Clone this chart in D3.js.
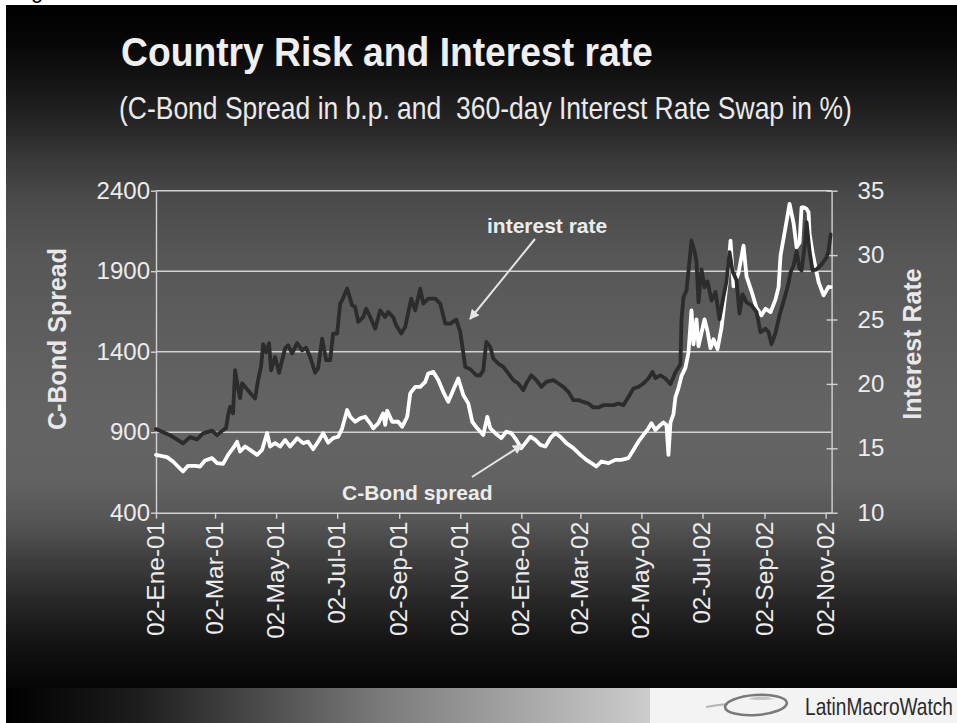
<!DOCTYPE html>
<html>
<head>
<meta charset="utf-8">
<script src="https://cdn.jsdelivr.net/npm/d3@7"></script>
<style>
  html, body { margin: 0; padding: 0; background: #ffffff; }
  svg { display: block; font-family: "Liberation Sans", Arial, Helvetica, sans-serif; }
</style>
</head>
<body>
<svg id="chart" width="957" height="723"></svg>
<script>
// C-Bond spread (basis points), left axis
const spreadSeries = [
  ["2001-01-02",759],["2001-01-13",745],["2001-01-19",718],["2001-01-24",687],["2001-01-29",656],
  ["2001-02-03",691],["2001-02-10",691],["2001-02-15",687],["2001-02-20",724],["2001-02-27",739],
  ["2001-03-04",708],["2001-03-10",703],["2001-03-15",759],["2001-03-20",801],["2001-03-24",841],
  ["2001-03-27",780],["2001-04-01",811],["2001-04-06",790],["2001-04-13",759],["2001-04-18",790],
  ["2001-04-23",894],["2001-04-26",811],["2001-05-01",832],["2001-05-06",811],["2001-05-11",852],
  ["2001-05-16",811],["2001-05-23",863],["2001-05-29",832],["2001-06-03",841],["2001-06-08",794],
  ["2001-06-13",841],["2001-06-18",894],["2001-06-23",835],["2001-06-28",863],["2001-07-03",872],
  ["2001-07-07",924],["2001-07-12",1038],["2001-07-15",996],["2001-07-20",965],["2001-07-25",986],
  ["2001-07-30",996],["2001-08-04",955],["2001-08-07",924],["2001-08-12",955],["2001-08-17",1017],
  ["2001-08-19",945],["2001-08-21",1033],["2001-08-26",965],["2001-09-01",965],["2001-09-05",934],
  ["2001-09-10",996],["2001-09-13",1141],["2001-09-18",1182],["2001-09-23",1182],["2001-09-28",1213],
  ["2001-10-01",1265],["2001-10-06",1275],["2001-10-11",1224],["2001-10-16",1151],["2001-10-21",1089],
  ["2001-10-26",1162],["2001-10-31",1234],["2001-11-05",1131],["2001-11-10",1079],["2001-11-14",965],
  ["2001-11-19",924],["2001-11-25",883],["2001-11-29",996],["2001-12-02",924],["2001-12-07",894],
  ["2001-12-13",863],["2001-12-18",903],["2001-12-23",894],["2001-12-28",852],["2002-01-02",801],
  ["2002-01-06",832],["2002-01-11",872],["2002-01-16",852],["2002-01-21",821],["2002-01-26",811],
  ["2002-01-31",863],["2002-02-05",894],["2002-02-10",872],["2002-02-16",832],["2002-02-23",801],
  ["2002-03-02",759],["2002-03-08",728],["2002-03-13",708],["2002-03-18",687],["2002-03-23",718],
  ["2002-03-30",708],["2002-04-06",728],["2002-04-12",728],["2002-04-19",739],["2002-04-24",790],
  ["2002-04-29",841],["2002-05-04",883],["2002-05-09",924],["2002-05-12",955],["2002-05-16",914],
  ["2002-05-21",945],["2002-05-24",960],["2002-05-27",945],["2002-05-29",759],["2002-05-31",960],
  ["2002-06-03",1013],["2002-06-05",1118],["2002-06-08",1174],["2002-06-11",1248],["2002-06-15",1301],
  ["2002-06-18",1394],["2002-06-21",1657],["2002-06-23",1446],["2002-06-26",1601],["2002-06-28",1434],
  ["2002-07-04",1601],["2002-07-07",1527],["2002-07-10",1422],["2002-07-13",1477],["2002-07-17",1416],
  ["2002-07-21",1549],["2002-07-25",1765],["2002-07-28",1925],["2002-07-30",2090],["2002-08-02",1806],
  ["2002-08-07",1889],["2002-08-12",2059],["2002-08-15",1868],["2002-08-20",1775],["2002-08-25",1672],
  ["2002-08-30",1626],["2002-09-03",1667],["2002-09-08",1646],["2002-09-13",1725],["2002-09-16",1801],
  ["2002-09-18",1998],["2002-09-21",2103],["2002-09-24",2210],["2002-09-27",2318],["2002-10-01",2199],
  ["2002-10-04",2049],["2002-10-07",2078],["2002-10-09",2297],["2002-10-11",2297],["2002-10-14",2287],
  ["2002-10-16",2266],["2002-10-17",2132],["2002-10-20",2016],["2002-10-22",1954],["2002-10-26",1832],
  ["2002-10-31",1750],["2002-11-05",1803],["2002-11-07",1801]
];

// 360-day interest rate swap (%), right axis
const rateSeries = [
  ["2001-01-02",16.49],["2001-01-16",16.02],["2001-01-29",15.38],["2001-02-05",15.87],["2001-02-12",15.69],
  ["2001-02-18",16.16],["2001-02-27",16.37],["2001-03-04",16.02],["2001-03-10",16.41],["2001-03-13",16.57],
  ["2001-03-15",17.57],["2001-03-17",18.22],["2001-03-20",17.71],["2001-03-22",21.06],["2001-03-25",19.67],
  ["2001-03-27",18.89],["2001-03-29",20.05],["2001-04-03",19.59],["2001-04-08",19.12],["2001-04-11",18.87],
  ["2001-04-14",20.29],["2001-04-17",21.37],["2001-04-19",23.08],["2001-04-22",22.46],["2001-04-25",23.15],
  ["2001-04-27",21.06],["2001-05-01",22.09],["2001-05-05",20.86],["2001-05-08",21.84],["2001-05-11",22.77],
  ["2001-05-14",23.00],["2001-05-18",22.36],["2001-05-23",23.16],["2001-05-28",22.61],["2001-06-01",22.81],
  ["2001-06-05",22.09],["2001-06-10",20.87],["2001-06-13",21.22],["2001-06-17",23.52],["2001-06-21",21.84],
  ["2001-06-25",21.84],["2001-06-28",23.91],["2001-07-02",23.91],["2001-07-05",26.23],["2001-07-07",26.49],
  ["2001-07-12",27.40],["2001-07-17",26.10],["2001-07-20",25.97],["2001-07-23",24.81],["2001-07-28",25.19],
  ["2001-07-31",25.84],["2001-08-04",25.19],["2001-08-09",24.29],["2001-08-14",25.71],["2001-08-19",25.19],
  ["2001-08-22",25.58],["2001-08-27",25.19],["2001-08-30",24.55],["2001-09-04",23.91],["2001-09-08",24.42],
  ["2001-09-14",26.62],["2001-09-18",25.71],["2001-09-23",27.40],["2001-09-26",26.23],["2001-10-01",26.62],
  ["2001-10-08",26.62],["2001-10-13",26.23],["2001-10-18",24.68],["2001-10-23",24.68],["2001-10-29",24.99],
  ["2001-11-02",24.03],["2001-11-07",21.32],["2001-11-12",21.14],["2001-11-18",20.67],["2001-11-22",20.67],
  ["2001-11-25",21.06],["2001-11-28",23.26],["2001-12-02",22.87],["2001-12-05",21.97],["2001-12-10",21.58],
  ["2001-12-15",21.32],["2001-12-20",20.81],["2001-12-25",20.29],["2001-12-30",20.03],["2002-01-04",19.51],
  ["2002-01-07",20.03],["2002-01-12",20.67],["2002-01-17",20.29],["2002-01-22",19.77],["2002-01-27",20.16],
  ["2002-02-03",20.29],["2002-02-08",20.03],["2002-02-13",19.77],["2002-02-18",19.38],["2002-02-23",18.74],
  ["2002-02-28",18.74],["2002-03-05",18.60],["2002-03-10",18.48],["2002-03-15",18.17],["2002-03-20",18.17],
  ["2002-03-25",18.35],["2002-03-30",18.35],["2002-04-04",18.35],["2002-04-09",18.48],["2002-04-14",18.35],
  ["2002-04-19",18.99],["2002-04-24",19.64],["2002-04-29",19.77],["2002-05-04",20.03],["2002-05-09",20.42],
  ["2002-05-13",20.93],["2002-05-16",20.44],["2002-05-21",20.67],["2002-05-26",20.42],["2002-05-31",19.98],
  ["2002-06-05",20.91],["2002-06-10",21.53],["2002-06-11",24.94],["2002-06-13",26.72],["2002-06-16",27.26],
  ["2002-06-18",28.74],["2002-06-21",31.14],["2002-06-24",30.29],["2002-06-26",29.51],["2002-06-28",26.33],
  ["2002-07-01",28.89],["2002-07-04",27.50],["2002-07-07",27.96],["2002-07-11",26.49],["2002-07-15",27.13],
  ["2002-07-19",25.02],["2002-07-23",26.80],["2002-07-26",27.96],["2002-07-29",30.23],["2002-08-01",28.74],
  ["2002-08-05",28.04],["2002-08-08",25.46],["2002-08-11",26.95],["2002-08-15",26.33],["2002-08-20",26.10],
  ["2002-08-25",25.58],["2002-08-29",24.01],["2002-09-03",24.29],["2002-09-06",24.03],["2002-09-09",23.08],
  ["2002-09-13",23.97],["2002-09-17",25.33],["2002-09-23",26.95],["2002-09-26",27.84],["2002-09-28",28.66],
  ["2002-10-01",29.20],["2002-10-04",30.29],["2002-10-07",28.95],["2002-10-09",28.81],["2002-10-13",31.29],
  ["2002-10-14",32.56],["2002-10-17",30.29],["2002-10-20",28.81],["2002-10-24",28.89],["2002-10-29",29.28],
  ["2002-11-03",29.82],["2002-11-05",30.36],["2002-11-07",31.60]
];

const spreadTicks = [400, 900, 1400, 1900, 2400];
const rateTicks = [10, 15, 20, 25, 30, 35];
const dateTicks = ["2001-01-02","2001-03-02","2001-05-02","2001-07-02","2001-09-02","2001-11-02",
                   "2002-01-02","2002-03-02","2002-05-02","2002-07-02","2002-09-02","2002-11-02"];
const dateTickLabels = ["02-Ene-01","02-Mar-01","02-May-01","02-Jul-01","02-Sep-01","02-Nov-01",
                        "02-Ene-02","02-Mar-02","02-May-02","02-Jul-02","02-Sep-02","02-Nov-02"];
const dateRange = ["2001-01-02", "2002-11-08"];

const titleText = "Country Risk and Interest rate";
const subtitleText = "(C-Bond Spread in b.p. and  360-day Interest Rate Swap in %)";
const leftTitle = "C-Bond Spread";
const rightTitle = "Interest Rate";
const rateNote = "interest rate";
const spreadNote = "C-Bond spread";
const brandText = "LatinMacroWatch";

const parse = d3.utcParse("%Y-%m-%d");
const svg = d3.select("#chart");
const W = 957, H = 723;
const plot = { left: 156, right: 831.6, top: 190.7, bottom: 512.7 };

// Places a text at (x, baseline) and squeezes it horizontally to the given width.
function fittedText(parent, str, x, y, width, attrs) {
  const g = parent.append("g");
  const t = g.append("text").attr("x", 0).attr("y", 0).style("white-space", "pre").text(str);
  Object.entries(attrs).forEach(([k, v]) => t.attr(k, v));
  const natural = t.node().getComputedTextLength();
  g.attr("transform", `translate(${x},${y}) scale(${width / natural},1)`);
  return t;
}

// ---------- backgrounds ----------
const defs = svg.append("defs");
const bg = defs.append("linearGradient").attr("id", "slideBg")
  .attr("gradientUnits", "userSpaceOnUse").attr("x1", 0).attr("y1", 5).attr("x2", 0).attr("y2", 688);
[[5,"#000000"],[40,"#060606"],[80,"#141414"],[120,"#242424"],[160,"#393939"],[200,"#4b4b4b"],
 [260,"#575757"],[340,"#5e5e5e"],[420,"#646464"],[480,"#626262"],[520,"#565656"],[560,"#3e3e3e"],
 [600,"#282828"],[640,"#151515"],[688,"#050505"]].forEach(([y, c]) => {
  bg.append("stop").attr("offset", (y - 5) / 683).attr("stop-color", c);
});
const strip = defs.append("linearGradient").attr("id", "stripBg")
  .attr("gradientUnits", "userSpaceOnUse").attr("x1", 6).attr("y1", 0).attr("x2", 650).attr("y2", 0);
[[0,"#000000"],[0.2,"#1c1c1c"],[0.4,"#4c4c4c"],[0.6,"#7e7e7e"],[0.8,"#a6a6a6"],[1,"#cdcdcd"]]
  .forEach(([o, c]) => strip.append("stop").attr("offset", o).attr("stop-color", c));

const marker = defs.append("marker").attr("id", "arrow")
  .attr("viewBox", "0 0 10 10").attr("refX", 9).attr("refY", 5)
  .attr("markerWidth", 5).attr("markerHeight", 5).attr("orient", "auto-start-reverse")
  .attr("markerUnits", "strokeWidth");
marker.append("path").attr("d", "M0,0 L10,5 L0,10 z").attr("fill", "#e6e6e6");

svg.append("rect").attr("width", W).attr("height", H).attr("fill", "#ffffff");
svg.append("rect").attr("x", 6).attr("y", 5).attr("width", W - 6).attr("height", 683).attr("fill", "url(#slideBg)");
svg.append("rect").attr("x", 6).attr("y", 688).attr("width", 644).attr("height", H - 688).attr("fill", "url(#stripBg)");
svg.append("rect").attr("x", 650).attr("y", 688).attr("width", W - 650).attr("height", H - 688).attr("fill", "#f3f3f3");
svg.append("text").attr("x", 31).attr("y", -2).attr("font-size", 22).attr("fill", "#000").text("g");

// ---------- titles ----------
fittedText(svg, titleText, 121, 66, 532,
  { "font-size": 41, "font-weight": "bold", "fill": "#efefef" });
fittedText(svg, subtitleText, 119, 119, 733,
  { "font-size": 32, "fill": "#eaeaea" });

// ---------- scales ----------
const x = d3.scaleUtc().domain(dateRange.map(parse)).range([plot.left, plot.right]);
const yLeft = d3.scaleLinear().domain([400, 2400]).range([plot.bottom, plot.top]);
const yRight = d3.scaleLinear().domain([10, 35]).range([plot.bottom, plot.top]);

const lineColor = "#d2d2d2";

// gridlines at the spread ticks
svg.append("g").selectAll("line").data(spreadTicks.slice(1)).join("line")
  .attr("x1", plot.left).attr("x2", plot.right)
  .attr("y1", d => yLeft(d)).attr("y2", d => yLeft(d))
  .attr("stroke", lineColor).attr("stroke-width", 1.4);

// ---------- axes ----------
const axisLeft = svg.append("g").attr("transform", `translate(${plot.left},0)`)
  .call(d3.axisLeft(yLeft).tickValues(spreadTicks).tickFormat(d3.format("d"))
    .tickSize(5).tickSizeOuter(0).tickPadding(1));
const axisRight = svg.append("g").attr("transform", `translate(${plot.right},0)`)
  .call(d3.axisRight(yRight).tickValues(rateTicks).tickFormat(d3.format("d"))
    .tickSize(6).tickSizeOuter(0).tickPadding(20));
axisRight.selectAll(".tick line").attr("x1", -5);
const axisBottom = svg.append("g").attr("transform", `translate(0,${plot.bottom})`)
  .call(d3.axisBottom(x).tickValues(dateTicks.map(parse))
    .tickFormat((d, i) => dateTickLabels[i]).tickSize(6).tickSizeOuter(0));
axisBottom.selectAll(".tick text")
  .attr("x", 0).attr("y", 0).attr("dy", null)
  .attr("text-anchor", "end")
  .attr("transform", "translate(7.5,9) rotate(-90)");

[axisLeft, axisRight, axisBottom].forEach(g => {
  g.select(".domain").attr("stroke", lineColor).attr("stroke-width", 1.4);
  g.selectAll(".tick line").attr("stroke", lineColor).attr("stroke-width", 1.4);
  g.selectAll(".tick text").attr("fill", "#ececec").attr("font-size", 24)
    .attr("font-family", "'Liberation Sans', Arial, sans-serif");
});
axisBottom.selectAll(".tick text").attr("font-size", 24.5);

// axis titles
svg.append("text").attr("transform", "translate(66,339) rotate(-90)")
  .attr("text-anchor", "middle").attr("font-size", 25).attr("font-weight", "bold")
  .attr("fill", "#e8e8e8").text(leftTitle);
svg.append("text").attr("transform", "translate(921,344) rotate(-90)")
  .attr("text-anchor", "middle").attr("font-size", 25).attr("font-weight", "bold")
  .attr("fill", "#e8e8e8").text(rightTitle);

// ---------- series ----------
const spreadLine = d3.line().x(d => x(parse(d[0]))).y(d => yLeft(d[1]));
const rateLine = d3.line().x(d => x(parse(d[0]))).y(d => yRight(d[1]));

svg.append("path").datum(spreadSeries).attr("d", spreadLine)
  .attr("fill", "none").attr("stroke", "#ffffff").attr("stroke-width", 3.8)
  .attr("stroke-linejoin", "round").attr("stroke-linecap", "round");
svg.append("path").datum(rateSeries).attr("d", rateLine)
  .attr("fill", "none").attr("stroke", "#2c2c2c").attr("stroke-width", 3.8)
  .attr("stroke-linejoin", "round").attr("stroke-linecap", "round");

// ---------- annotations ----------
svg.append("text").attr("x", 487).attr("y", 233).attr("font-size", 21).attr("font-weight", "bold")
  .attr("fill", "#ececec").text(rateNote);
svg.append("line").attr("x1", 535).attr("y1", 239).attr("x2", 470).attr("y2", 319)
  .attr("stroke", "#e6e6e6").attr("stroke-width", 2).attr("marker-end", "url(#arrow)");
svg.append("text").attr("x", 342).attr("y", 500).attr("font-size", 21).attr("font-weight", "bold")
  .attr("fill", "#ececec").text(spreadNote);
svg.append("line").attr("x1", 472).attr("y1", 477).attr("x2", 522).attr("y2", 445)
  .attr("stroke", "#e6e6e6").attr("stroke-width", 2).attr("marker-end", "url(#arrow)");

// ---------- brand mark ----------
const brand = svg.append("g");
brand.append("path").attr("d", "M706,707 Q716,705 728,704")
  .attr("fill", "none").attr("stroke", "#b5b5b5").attr("stroke-width", 2);
brand.append("ellipse").attr("cx", 756).attr("cy", 705).attr("rx", 31).attr("ry", 10)
  .attr("transform", "rotate(-4,756,705)")
  .attr("fill", "none").attr("stroke", "#7a7a7a").attr("stroke-width", 2.6);
brand.append("path").attr("d", "M748,699 Q760,694 774,699 Q762,701 748,699 z")
  .attr("fill", "#c4c4c4");
fittedText(brand, brandText, 805, 715, 148,
  { "font-size": 24, "fill": "#2a2a2a" });
</script>
</body>
</html>
